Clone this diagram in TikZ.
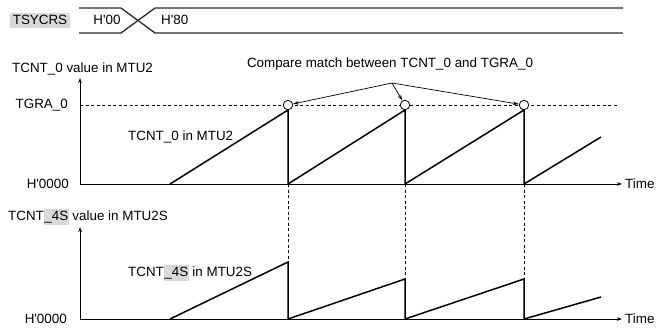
\documentclass[tikz,border=0pt]{standalone}
\usepackage{fontspec}
\setmainfont{Liberation Sans}
\usetikzlibrary{arrows.meta}
\definecolor{hlgray}{RGB}{217,217,217}
\definecolor{linegray}{RGB}{40,40,40}
\newcommand\hlbox[1]{{\setlength{\fboxsep}{0.5pt}\colorbox{hlgray}{\strut #1}}}
\newcommand\qs{\textquotesingle}
\tikzset{
  lbl/.style={inner sep=0pt, font=\fontsize{13.4bp}{15bp}\selectfont},
  axisline/.style={line width=0.8bp, -{Stealth[length=5bp,width=3.5bp]}},
  ramp/.style={line width=1.5bp, line join=miter},
  guide/.style={line width=0.6bp, dash pattern=on 3bp off 2.5bp},
  matchpt/.style={circle, draw, line width=0.8bp, fill=white, inner sep=0pt, minimum size=9.5bp},
  callarrow/.style={line width=0.7bp, -{Stealth[length=6bp,width=3.5bp]}},
  sig/.style={line width=1.3bp, color=linegray}
}
\begin{document}
\begin{tikzpicture}[x=1bp,y=-1bp]
\useasboundingbox (0,0) rectangle (658,327);
% top timing signal
\node[lbl, fill=hlgray, minimum width=60bp, minimum height=15bp] (tsy) at (40,20) {TSYCRS};
\coordinate (s0) at (79,8);
\coordinate (s1) at (79,33);
\coordinate (sx1) at (121,8);
\coordinate (sx2) at (121,33);
\coordinate (sy1) at (155,8);
\coordinate (sy2) at (155,33);
\coordinate (se1) at (623,8);
\coordinate (se2) at (623,33);
\draw[sig] (s0) -- (sx1) -- (sy2) -- (se2);
\draw[sig] (s1) -- (sx2) -- (sy1) -- (se1);
\node[lbl] (h00) at (107,20) {H\qs 00};
\node[lbl, anchor=west] (h80) at (161,20) {H\qs 80};

% upper chart
\node[lbl, anchor=west] (ylab1) at (12,69) {TCNT\_0 value in MTU2};
\node[lbl, anchor=east] (tgra) at (68,105) {TGRA\_0};
\node[lbl, anchor=east] (zero1) at (69,184) {H\qs 0000};
\coordinate (o1) at (80,184);
\coordinate (yt1) at (80,78);
\coordinate (xt1) at (622,184);
\draw[axisline] (o1) -- (yt1);
\draw[axisline] (o1) -- (xt1);
\node[lbl, anchor=west] (time1) at (625,184) {Time};
\coordinate (d0) at (80,105);
\coordinate (d1) at (618,105);
\draw[guide] (d0) -- (d1);
% ramps
\coordinate (a0) at (170,184);
\coordinate (a1t) at (288,110);
\coordinate (a1b) at (288,184);
\coordinate (a2t) at (405,110);
\coordinate (a2b) at (405,184);
\coordinate (a3t) at (524,110);
\coordinate (a3b) at (524,184);
\coordinate (a4) at (601,137);
\draw[ramp] (a0) -- (a1t) -- (a1b) -- (a2t) -- (a2b) -- (a3t) -- (a3b) -- (a4);
\node[matchpt] (c1) at (288,105) {};
\node[matchpt] (c2) at (405,105) {};
\node[matchpt] (c3) at (524,105) {};
\node[lbl, anchor=west] (rl1) at (128,137) {TCNT\_0 in MTU2};
% callout
\node[lbl] (call) at (390,64) {Compare match between TCNT\_0 and TGRA\_0};
\coordinate (cm) at (392,83);
\draw[callarrow] (cm) -- (c1);
\draw[callarrow] (cm) -- (c2);
\draw[callarrow] (cm) -- (c3);

% lower chart
\node[lbl, anchor=west] (ylab2) at (8,217) {TCNT\hlbox{\_4S} value in MTU2S};
\node[lbl, anchor=east] (zero2) at (67,319) {H\qs 0000};
\coordinate (o2) at (80,319);
\coordinate (yt2) at (80,227);
\coordinate (xt2) at (622,319);
\draw[axisline] (o2) -- (yt2);
\draw[axisline] (o2) -- (xt2);
\node[lbl, anchor=west] (time2) at (625,319) {Time};
\coordinate (b0) at (170,319);
\coordinate (b1t) at (288,262);
\coordinate (b1b) at (288,319);
\coordinate (b2t) at (405,279);
\coordinate (b2b) at (405,319);
\coordinate (b3t) at (524,279);
\coordinate (b3b) at (524,319);
\coordinate (b4) at (601,297);
\draw[ramp] (b0) -- (b1t) -- (b1b) -- (b2t) -- (b2b) -- (b3t) -- (b3b) -- (b4);
\node[lbl, anchor=west] (rl2) at (128,273) {TCNT\hlbox{\_4S} in MTU2S};
% vertical guides
\draw[guide] (a1b) -- (b1t);
\draw[guide] (a2b) -- (b2t);
\draw[guide] (a3b) -- (b3t);
\end{tikzpicture}
\end{document}
